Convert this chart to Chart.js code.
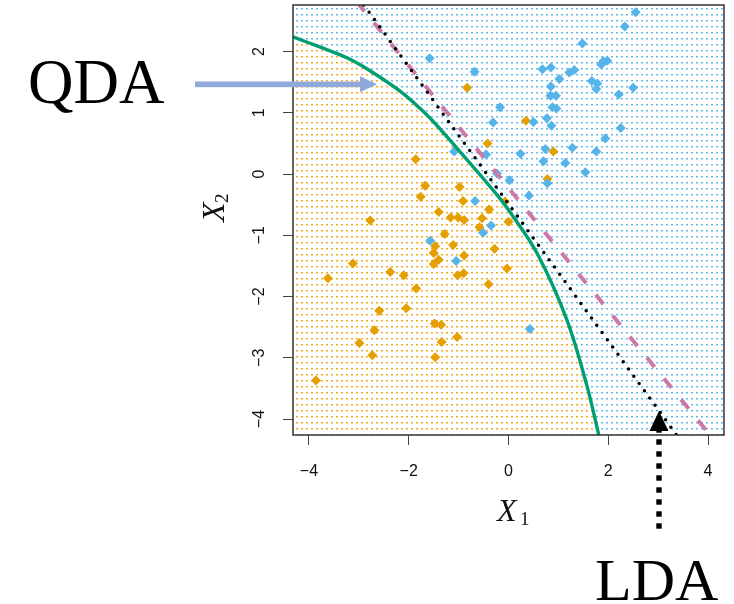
<!DOCTYPE html>
<html>
<head>
<meta charset="utf-8">
<script src="https://cdn.jsdelivr.net/npm/chart.js@4/dist/chart.umd.min.js"></script>
<style>
  html, body { margin: 0; padding: 0; background: #fff; }
  #wrap { width: 734px; height: 604px; }
</style>
</head>
<body>
<div id="wrap"><canvas id="canv" width="734" height="604"></canvas></div>
<script>
// observations, class 1 (orange)
var orangeX = [0.35, 0.90, 0.78, -0.83, -0.42, -1.86, -1.67, -1.76, -0.98, -0.91, -0.39, -1.40, -1.16, -1.01, -0.89, -0.53,
  -2.77, -0.07, 0.00, -0.58, -1.28, -1.47, -1.11, -0.28, -1.50, -1.40, -1.50, -0.89, -0.03, -1.02, -0.90, -2.37,
  -2.10, -0.40, -1.85, -2.05, -3.12, -3.62, -2.59, -1.48, -1.35, -2.69, -1.03, -2.99, -1.34, -2.73, -1.47, -3.86];
var orangeY = [0.87, 0.37, -0.08, 1.41, 0.50, 0.24, -0.19, -0.37, -0.21, -0.44, -0.58, -0.62, -0.71, -0.71, -0.75, -0.72,
  -0.76, -0.45, -0.78, -0.87, -0.98, -1.18, -1.16, -1.22, -1.29, -1.40, -1.47, -1.33, -1.54, -1.65, -1.62, -1.60,
  -1.65, -1.80, -1.87, -2.19, -1.46, -1.70, -2.23, -2.44, -2.46, -2.55, -2.66, -2.76, -2.74, -2.96, -2.99, -3.37];

// observations, class 2 (blue)
var blueX = [2.55, 2.33, 1.48, 1.86, 1.90, 1.98, 0.68, 0.85, 1.02, 1.22, 1.32, 1.67, 1.78, 1.76, 0.85, 0.84, 0.95,
  2.21, 2.50, 0.88, 0.96, 0.77, 0.50, 0.86, 2.25, 1.94, 0.74, 1.28, 1.76, 0.24, 0.70, 1.14, 1.54, 0.78, 0.41,
  0.02, -0.17, -1.58, -0.68, -0.31, -0.45, -1.09, -0.23, -0.67, -0.35, -0.51, -1.57, -1.05, 0.43];
var blueY = [2.64, 2.41, 2.13, 1.79, 1.84, 1.85, 1.71, 1.74, 1.55, 1.66, 1.70, 1.52, 1.48, 1.39, 1.43, 1.28, 1.28,
  1.30, 1.41, 1.09, 1.07, 0.91, 0.85, 0.79, 0.75, 0.58, 0.41, 0.43, 0.37, 0.33, 0.21, 0.18, 0.03, -0.15, -0.35,
  -0.10, 1.09, 1.89, 1.67, 0.84, 0.32, 0.37, 0.01, -0.44, -0.84, -0.96, -1.09, -1.42, -2.53];

// decision boundaries
var qdaX = [-4.32, -3.80, -3.24, -2.84, -2.20, -1.77, -1.50, -1.17, -0.83, -0.50, -0.23, 0.03, 0.57, 1.17, 1.57, 1.81];
var qdaY = [2.24, 2.08, 1.90, 1.72, 1.37, 1.07, 0.85, 0.55, 0.23, -0.08, -0.34, -0.62, -1.29, -2.38, -3.45, -4.26];
var ldaX = [-2.90, 3.37];
var ldaY = [2.76, -4.26];
var bayesX = [-2.99, 4.04];
var bayesY = [2.76, -4.26];

var xTicks = [-4, -2, 0, 2, 4];
var yTicks = [-4, -3, -2, -1, 0, 1, 2];

function pts(xs, ys) {
  return xs.map(function (x, i) { return { x: x, y: ys[i] }; });
}
function fmt(v) {
  return v < 0 ? '\u2212' + Math.abs(v) : '' + v;
}
function dots(dark, light) {
  var c = document.createElement('canvas');
  c.width = 5; c.height = 6;
  var g = c.getContext('2d');
  g.fillStyle = dark;
  g.fillRect(1, 2, 2, 1);
  g.fillStyle = light;
  g.fillRect(1, 3, 2, 1);
  return document.getElementById('canv').getContext('2d').createPattern(c, 'repeat');
}
var orangeDots = dots('#F0AA22', '#F8D690');
var blueDots = dots('#62B8EA', '#B4DDF6');

var extras = {
  id: 'extras',
  beforeDraw: function (chart) {
    var a = chart.chartArea, ctx = chart.ctx;
    ctx.save();
    ctx.fillStyle = '#fff';
    ctx.fillRect(0, 0, chart.width, chart.height);
    ctx.fillStyle = blueDots;
    ctx.fillRect(a.left, a.top, a.right - a.left, a.bottom - a.top);
    ctx.restore();
  },
  afterDraw: function (chart) {
    var a = chart.chartArea, ctx = chart.ctx, ys = chart.scales.y;
    ctx.save();
    // box
    ctx.strokeStyle = '#333';
    ctx.lineWidth = 1.5;
    ctx.strokeRect(a.left, a.top, a.right - a.left, a.bottom - a.top);
    // y tick labels, rotated like R
    ctx.fillStyle = '#111';
    ctx.font = '16px "Liberation Sans"';
    ctx.textAlign = 'center';
    ctx.textBaseline = 'middle';
    yTicks.forEach(function (v) {
      ctx.save();
      ctx.translate(260, ys.getPixelForValue(v));
      ctx.rotate(-Math.PI / 2);
      ctx.fillText(fmt(v), 0, 0);
      ctx.restore();
    });
    // axis titles
    ctx.textAlign = 'left';
    ctx.textBaseline = 'alphabetic';
    ctx.font = 'italic 32px "Liberation Serif"';
    ctx.fillText('X', 497, 521);
    ctx.font = '19px "Liberation Serif"';
    ctx.fillText('1', 520, 525);
    ctx.save();
    ctx.translate(224, 222);
    ctx.rotate(-Math.PI / 2);
    ctx.font = 'italic 32px "Liberation Serif"';
    ctx.fillText('X', 0, 0);
    ctx.font = '19px "Liberation Serif"';
    ctx.fillText('2', 19, 4);
    ctx.restore();
    // QDA label and arrow
    ctx.fillStyle = '#000';
    ctx.font = '63px "Liberation Serif"';
    ctx.fillText('QDA', 28, 103);
    ctx.fillStyle = '#8FA9DB';
    ctx.fillRect(195, 81.5, 166, 5.7);
    ctx.beginPath();
    ctx.moveTo(360, 76.3); ctx.lineTo(377, 84.3); ctx.lineTo(360, 92.3);
    ctx.closePath(); ctx.fill();
    // LDA label and arrow
    ctx.fillStyle = '#000';
    ctx.font = '60px "Liberation Serif"';
    ctx.fillText('LDA', 595, 600);
    for (var y = 526; y > 428; y -= 12) {
      ctx.fillRect(656.3, y - 2.7, 5.4, 5.4);
    }
    ctx.beginPath();
    ctx.moveTo(659, 411); ctx.lineTo(668.5, 431); ctx.lineTo(649.5, 431);
    ctx.closePath(); ctx.fill();
    ctx.restore();
  }
};

var chart = new Chart(document.getElementById('canv'), {
  type: 'scatter',
  data: {
    datasets: [{
      data: pts(ldaX, ldaY),
      showLine: true,
      borderColor: '#000',
      borderWidth: 3.5,
      borderDash: [0, 9],
      borderCapStyle: 'round',
      pointRadius: 0
    }, {
      data: pts(bayesX, bayesY),
      showLine: true,
      borderColor: '#CC79A7',
      borderWidth: 4,
      borderDash: [12, 15],
      borderDashOffset: 4,
      pointRadius: 0
    }, {
      data: pts(qdaX, qdaY),
      showLine: true,
      borderColor: '#009E73',
      borderWidth: 3.4,
      tension: 0.35,
      pointRadius: 0,
      fill: 'start',
      backgroundColor: orangeDots
    }, {
      data: pts(blueX, blueY),
      pointStyle: 'rectRot',
      pointRadius: 5,
      pointBorderWidth: 0,
      backgroundColor: '#56B4E9',
      borderColor: '#56B4E9'
    }, {
      data: pts(orangeX, orangeY),
      pointStyle: 'rectRot',
      pointRadius: 5,
      pointBorderWidth: 0,
      backgroundColor: '#E69F00',
      borderColor: '#E69F00'
    }]
  },
  options: {
    responsive: false,
    animation: false,
    devicePixelRatio: 1,
    layout: { padding: { top: 5, right: 10, left: 0, bottom: 0 } },
    plugins: {
      legend: { display: false },
      tooltip: { enabled: false },
      filler: { drawTime: 'beforeDatasetsDraw' }
    },
    scales: {
      x: {
        type: 'linear',
        min: -4.32, max: 4.32,
        afterFit: function (s) { s.height = 169; },
        afterBuildTicks: function (s) { s.ticks = xTicks.map(function (v) { return { value: v }; }); },
        ticks: {
          callback: function (v) { return fmt(v); },
          color: '#111',
          padding: 17,
          maxRotation: 0,
          font: { family: 'Liberation Sans', size: 16 }
        },
        grid: { drawOnChartArea: false, tickLength: 10, color: '#444' },
        border: { display: false }
      },
      y: {
        type: 'linear',
        min: -4.26, max: 2.76,
        afterFit: function (s) { s.width = 293; },
        afterBuildTicks: function (s) { s.ticks = yTicks.map(function (v) { return { value: v }; }); },
        ticks: { display: false },
        grid: { drawOnChartArea: false, tickLength: 10, color: '#444' },
        border: { display: false }
      }
    }
  },
  plugins: [extras]
});
</script>
</body>
</html>
